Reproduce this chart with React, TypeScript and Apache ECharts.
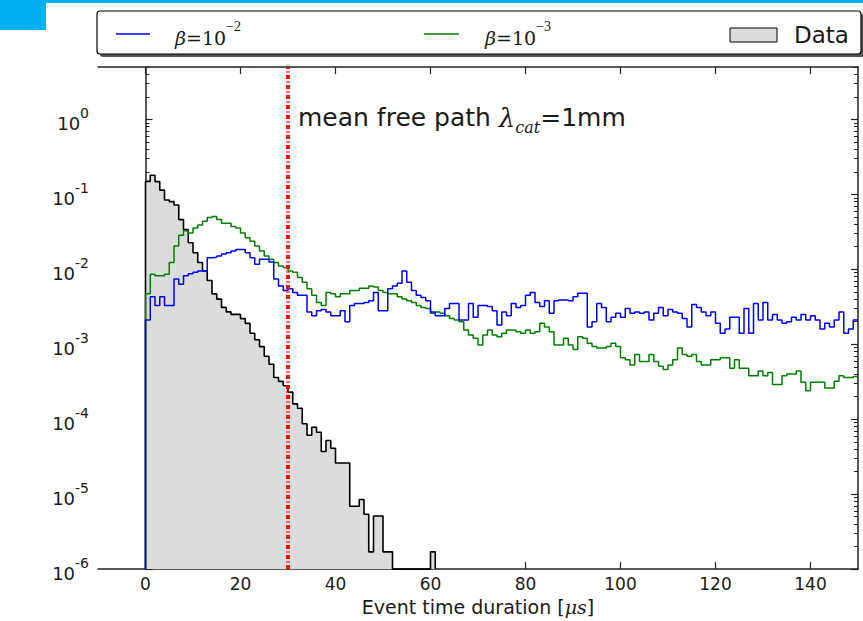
import React, { useEffect, useRef } from "react";
import * as echarts from "echarts";

// ---- data (bin width 1 µs, bins start at 0 µs) ----
const dataCounts = [
  0.149, 0.18, 0.148, 0.114, 0.084, 0.08, 0.072, 0.046, 0.034, 0.0226,
  0.0166, 0.0123, 0.0095, 0.0071, 0.0047, 0.004, 0.0031, 0.0027, 0.0025, 0.0025,
  0.0022, 0.0019, 0.0014, 0.00115, 0.00093, 0.00069, 0.00054, 0.00036, 0.00032, 0.00028,
  0.00023, 0.00016, 0.00014, 0.000087, 0.000061, 0.000078, 0.000067, 0.000037, 0.000052, 0.000041,
  0.000026, 0.000026, 0.000026, 0.0000069, 0.0000069, 0.0000085, 0.0000054, 0.0000017, 0.0000051, 0.0000051,
  0.0000017, 0.0000017, 0, 0, 0, 0, 0, 0, 0, 0,
  0.0000017,
];

const beta2Values = [
  0.0021, 0.0043, 0.0033, 0.0043, 0.0033, 0.0033, 0.0074, 0.0063, 0.0082, 0.0087,
  0.0091, 0.0095, 0.0095, 0.0143, 0.0145, 0.0151, 0.016, 0.0166, 0.0175, 0.0184,
  0.0184, 0.0166, 0.0143, 0.0117, 0.0136, 0.0136, 0.0125, 0.0074, 0.006, 0.0052,
  0.0055, 0.0049, 0.0045, 0.0045, 0.0027, 0.0024, 0.0028, 0.0029, 0.0027, 0.0024,
  0.0024, 0.0028, 0.002, 0.0033, 0.0035, 0.0035, 0.0036, 0.0038, 0.0049, 0.0028,
  0.0028, 0.0055, 0.006, 0.0065, 0.0095, 0.0067, 0.0052, 0.0045, 0.0042, 0.0038,
  0.0027, 0.0024, 0.0024, 0.003, 0.0035, 0.0035, 0.0021, 0.0021, 0.0035, 0.0023,
  0.0033, 0.0033, 0.0032, 0.0028, 0.0018, 0.0027, 0.0024, 0.0035, 0.0031, 0.0033,
  0.0045, 0.0049, 0.0036, 0.0032, 0.0038, 0.0026, 0.0038, 0.0039, 0.0039, 0.0038,
  0.0043, 0.0048, 0.0048, 0.0017, 0.002, 0.0035, 0.0031, 0.002, 0.0023, 0.0026,
  0.0023, 0.003, 0.0026, 0.0027, 0.0026, 0.0027, 0.0021, 0.0026, 0.0031, 0.0024,
  0.0029, 0.0027, 0.0026, 0.0022, 0.0017, 0.0034, 0.0031, 0.0027, 0.0024, 0.0027,
  0.0019, 0.0014, 0.0016, 0.0023, 0.0023, 0.0014, 0.003, 0.0014, 0.0035, 0.0021,
  0.0036, 0.0021, 0.0025, 0.0021, 0.0019, 0.002, 0.0023, 0.0021, 0.0025, 0.0021,
  0.0024, 0.0021, 0.0016, 0.0019, 0.0017, 0.0021, 0.0027, 0.0014, 0.0016, 0.0021,
];

const beta3Values = [
  0.0047, 0.0086, 0.0082, 0.0082, 0.0086, 0.0123, 0.0204, 0.0284, 0.0327, 0.0305,
  0.0355, 0.039, 0.0436, 0.049, 0.0507, 0.046, 0.0413, 0.0413, 0.0373, 0.0355,
  0.0305, 0.0263, 0.0237, 0.0204, 0.0175, 0.0151, 0.0136, 0.0123, 0.0111, 0.0106,
  0.0095, 0.0091, 0.0078, 0.0067, 0.0055, 0.0045, 0.0036, 0.0033, 0.0049, 0.0047,
  0.0043, 0.0047, 0.0047, 0.0052, 0.0052, 0.0056, 0.0056, 0.006, 0.0058, 0.0052,
  0.0049, 0.0047, 0.0047, 0.0043, 0.004, 0.0038, 0.0036, 0.0033, 0.0031, 0.003,
  0.0026, 0.0027, 0.0026, 0.0024, 0.0022, 0.0021, 0.002, 0.00155, 0.00133, 0.0012,
  0.00098, 0.00133, 0.00155, 0.00133, 0.00126, 0.0014, 0.00155, 0.00155, 0.00147, 0.0014,
  0.00155, 0.0014, 0.00147, 0.0019, 0.0017, 0.00147, 0.00098, 0.00098, 0.0012, 0.00098,
  0.00085, 0.00126, 0.0012, 0.00103, 0.00093, 0.00089, 0.00089, 0.00093, 0.00103, 0.00093,
  0.00066, 0.00062, 0.00053, 0.00073, 0.00059, 0.00059, 0.00073, 0.00059, 0.00051, 0.00046,
  0.00053, 0.00062, 0.00089, 0.00073, 0.00069, 0.00073, 0.00059, 0.00053, 0.00053, 0.00062,
  0.00062, 0.00066, 0.00066, 0.00048, 0.00062, 0.00048, 0.00048, 0.00038, 0.00038, 0.00044,
  0.00038, 0.00042, 0.00029, 0.00029, 0.00038, 0.0004, 0.0004, 0.00044, 0.00031, 0.00024,
  0.00031, 0.00031, 0.00031, 0.00026, 0.00026, 0.00032, 0.00038, 0.00036, 0.00036, 0.00037,
];

const xTickValues = [0, 20, 40, 60, 80, 100, 120, 140];
const yTickValues = [1e-6, 1e-5, 1e-4, 1e-3, 1e-2, 1e-1, 1];
const meanFreePathX = 30;
const X_MIN = -10;
const X_MAX = 150;
const Y_MIN = 1e-6;
const Y_MAX = 5;
const BIN = 1;

// minor log ticks 2..9 per decade
const yMinorValues: number[] = [];
for (let e = -6; e <= 0; e++) {
  for (let m = 2; m <= 9; m++) {
    const v = m * Math.pow(10, e);
    if (v <= Y_MAX) yMinorValues.push(v);
  }
}

function stepPoints(vals: number[], dropAtEnd: boolean) {
  const pts: number[][] = [[0, Y_MIN]];
  vals.forEach((v, i) => pts.push([i * BIN, v > 0 ? v : Y_MIN]));
  const last = vals[vals.length - 1];
  pts.push([vals.length * BIN, last > 0 ? last : Y_MIN]);
  if (dropAtEnd) pts.push([vals.length * BIN, Y_MIN]);
  return pts;
}

const FONT = "DejaVu Sans";
const SERIF = "DejaVu Serif";
const TXT = "#1a1a1a";
const AX = "#222";

export default function App() {
  const ref = useRef<HTMLDivElement>(null);
  useEffect(() => {
    if (!ref.current) return;
    const chart = echarts.init(ref.current, null, { renderer: "svg" });

    const supLabel = (v: number) => {
      const e = Math.round(Math.log10(v));
      return `{b|10}{s|${e}}`;
    };

    const yCommon = {
      type: "log" as const,
      min: Y_MIN,
      max: Y_MAX,
      logBase: 10,
      splitLine: { show: false },
      minorTick: { show: false },
    };

    const legendRich = {
      i: { fontFamily: SERIF, fontStyle: "italic", fontSize: 19, fill: TXT, lineHeight: 28, verticalAlign: "bottom" },
      r: { fontFamily: SERIF, fontSize: 19, fill: TXT, lineHeight: 28, verticalAlign: "bottom" },
      s: { fontFamily: "Liberation Serif", fontSize: 14, fill: TXT, lineHeight: 14, verticalAlign: "top" },
    };

    const option: any = {
      animation: false,
      grid: { left: 98, right: 5, top: 67, bottom: 45, containLabel: false },
      xAxis: [
        {
          type: "value",
          min: X_MIN,
          max: X_MAX,
          position: "bottom",
          axisLine: { show: true, onZero: false, lineStyle: { color: AX, width: 1.5 } },
          axisTick: { show: true, inside: true, length: 7, customValues: xTickValues, lineStyle: { color: AX, width: 1.2 } },
          axisLabel: {
            show: true,
            customValues: xTickValues,
            fontFamily: FONT,
            fontSize: 17,
            color: TXT,
            margin: 6,
          },
          splitLine: { show: false },
          name: "{t|Event time duration [}{m|μs}{t|]}",
          nameLocation: "middle",
          nameGap: 26,
          nameTextStyle: {
            rich: {
              t: { fontFamily: FONT, fontSize: 19, color: TXT },
              m: { fontFamily: SERIF, fontStyle: "italic", fontSize: 19, color: TXT },
            },
          },
        },
        {
          type: "value",
          min: X_MIN,
          max: X_MAX,
          position: "top",
          axisLine: { show: true, onZero: false, lineStyle: { color: AX, width: 1.5 } },
          axisTick: { show: true, inside: true, length: 7, customValues: xTickValues, lineStyle: { color: AX, width: 1.2 } },
          axisLabel: { show: false },
          splitLine: { show: false },
        },
      ],
      yAxis: [
        {
          ...yCommon,
          position: "left",
          axisLine: { show: true, lineStyle: { color: AX, width: 1.5 } },
          axisTick: { show: true, inside: true, length: 7, customValues: yTickValues, lineStyle: { color: AX, width: 1.2 } },
          axisLabel: {
            show: true,
            customValues: yTickValues,
            formatter: supLabel,
            margin: 9,
            rich: {
              b: { fontFamily: FONT, fontSize: 18, color: TXT, lineHeight: 26, verticalAlign: "bottom" },
              s: { fontFamily: FONT, fontSize: 14, color: TXT, lineHeight: 13, verticalAlign: "top" },
            },
          },
        },
        {
          ...yCommon,
          position: "left",
          axisLine: { show: false },
          axisTick: { show: true, inside: true, length: 4, customValues: yMinorValues, lineStyle: { color: AX, width: 1 } },
          axisLabel: { show: false },
        },
        {
          ...yCommon,
          position: "right",
          axisLine: { show: true, lineStyle: { color: AX, width: 1.5 } },
          axisTick: { show: true, inside: true, length: 7, customValues: yTickValues, lineStyle: { color: AX, width: 1.2 } },
          axisLabel: { show: false },
        },
        {
          ...yCommon,
          position: "right",
          axisLine: { show: false },
          axisTick: { show: true, inside: true, length: 4, customValues: yMinorValues, lineStyle: { color: AX, width: 1 } },
          axisLabel: { show: false },
        },
      ],
      series: [
        {
          name: "Data fill",
          type: "custom",
          xAxisIndex: 0,
          yAxisIndex: 0,
          silent: true,
          z: 1,
          data: [[0, Y_MIN]],
          renderItem: (_params: any, api: any) => {
            const pts: number[][] = [api.coord([0, Y_MIN])];
            dataCounts.forEach((v, i) => {
              const val = v > 0 ? v : Y_MIN;
              pts.push(api.coord([i * BIN, val]));
              pts.push(api.coord([(i + 1) * BIN, val]));
            });
            pts.push(api.coord([dataCounts.length * BIN, Y_MIN]));
            return { type: "polygon", shape: { points: pts }, style: { fill: "#dcdcdc", stroke: null } };
          },
        },
        {
          name: "Data",
          type: "line",
          step: "end",
          xAxisIndex: 0,
          yAxisIndex: 0,
          symbol: "none",
          z: 2,
          lineStyle: { color: "#000", width: 1.6 },
          data: stepPoints(dataCounts, true),
        },
        {
          name: "beta3",
          type: "line",
          step: "end",
          xAxisIndex: 0,
          yAxisIndex: 0,
          symbol: "none",
          z: 3,
          lineStyle: { color: "#008000", width: 1.5 },
          data: stepPoints(beta3Values, false),
        },
        {
          name: "beta2",
          type: "line",
          step: "end",
          xAxisIndex: 0,
          yAxisIndex: 0,
          symbol: "none",
          z: 4,
          lineStyle: { color: "#0000ff", width: 1.5 },
          data: stepPoints(beta2Values, false),
          markLine: {
            silent: true,
            symbol: "none",
            label: { show: false },
            lineStyle: { color: "#ff0000", width: 4, type: [4, 2.5, 1, 2.5], opacity: 1 },
            data: [{ xAxis: meanFreePathX }],
          },
        },
      ],
      graphic: [
        { type: "rect", shape: { x: 0, y: 0, width: 863, height: 3 }, style: { fill: "#00b0f0" }, z: 100 },
        { type: "rect", shape: { x: 0, y: 0, width: 46, height: 30 }, style: { fill: "#00b0f0" }, z: 100 },
        // legend box shadow + box
        { type: "rect", shape: { x: 100, y: 14, width: 764, height: 43, r: 3 }, style: { fill: "#555" }, z: 100 },
        { type: "rect", shape: { x: 97, y: 11, width: 764, height: 43, r: 3 }, style: { fill: "#fff", stroke: "#000", lineWidth: 1.2 }, z: 101 },
        { type: "line", shape: { x1: 116, y1: 34, x2: 150, y2: 34 }, style: { stroke: "#0000ff", lineWidth: 1.5 }, z: 102 },
        {
          type: "text",
          x: 175,
          y: 33,
          z: 102,
          style: { text: "{i|β}{r|=10}{s|−2}", verticalAlign: "middle", rich: legendRich },
        },
        { type: "line", shape: { x1: 424, y1: 34, x2: 459, y2: 34 }, style: { stroke: "#008000", lineWidth: 1.5 }, z: 102 },
        {
          type: "text",
          x: 485,
          y: 33,
          z: 102,
          style: { text: "{i|β}{r|=10}{s|−3}", verticalAlign: "middle", rich: legendRich },
        },
        { type: "rect", shape: { x: 730, y: 28, width: 47, height: 14 }, style: { fill: "#dcdcdc", stroke: "#000", lineWidth: 1 }, z: 102 },
        {
          type: "text",
          x: 794,
          y: 35,
          z: 102,
          style: { text: "Data", fontFamily: FONT, fontSize: 23, fill: TXT, verticalAlign: "middle" },
        },
        {
          type: "text",
          x: 298,
          y: 120,
          z: 102,
          style: {
            text: "{a|mean free path }{l|λ}{c|cat}{a|=1mm}",
            verticalAlign: "middle",
            rich: {
              a: { fontFamily: FONT, fontSize: 25, fill: TXT, lineHeight: 30, verticalAlign: "top" },
              l: { fontFamily: SERIF, fontStyle: "italic", fontSize: 26, fill: TXT, lineHeight: 30, verticalAlign: "top" },
              c: { fontFamily: SERIF, fontStyle: "italic", fontSize: 16, fill: TXT, lineHeight: 17, verticalAlign: "bottom" },
            },
          },
        },
      ],
    };
    chart.setOption(option);
    return () => chart.dispose();
  }, []);

  return (
    <div
      ref={ref}
      style={{ position: "fixed", left: 0, top: 0, width: 863, height: 621, background: "#fff" }}
    />
  );
}
